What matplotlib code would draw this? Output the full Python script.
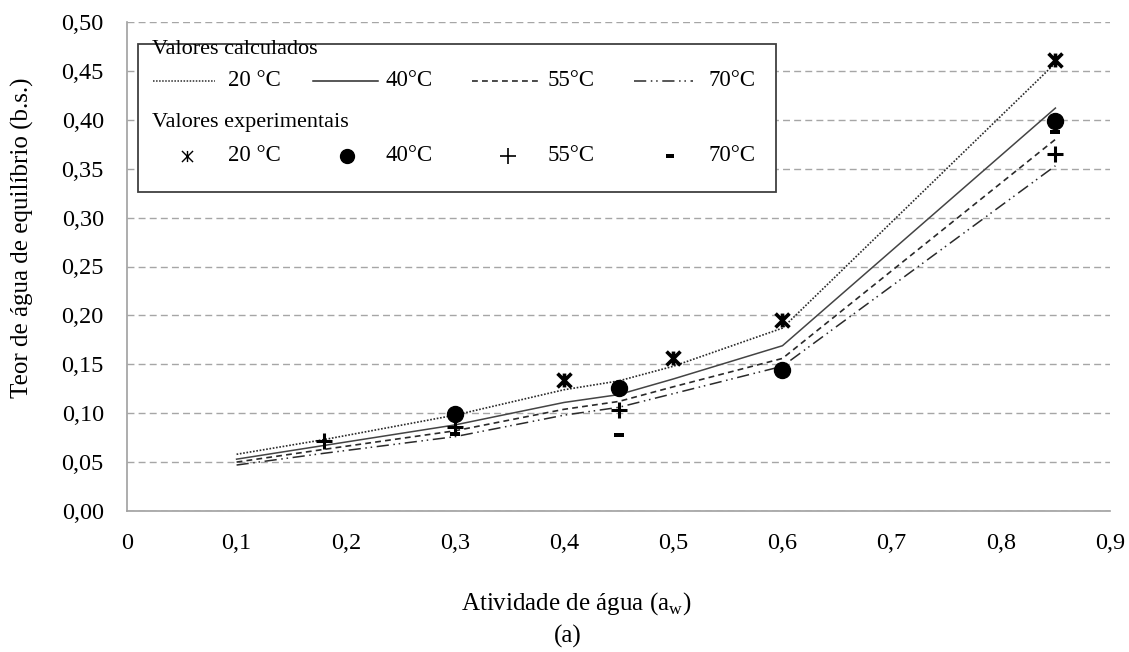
import matplotlib
matplotlib.use("Agg")
import matplotlib.pyplot as plt
from matplotlib.path import Path
from matplotlib.lines import Line2D
from matplotlib.patches import Rectangle
from matplotlib.ticker import FuncFormatter

plt.rcParams['font.family'] = ['Liberation Serif', 'DejaVu Serif']
plt.rcParams['mathtext.fontset'] = 'custom'
plt.rcParams['mathtext.rm'] = 'Liberation Serif'

# ---- data ----
x_calc = [0.10, 0.18, 0.30, 0.40, 0.45, 0.50, 0.60, 0.85]
calc_20 = [0.058, 0.073, 0.098, 0.124, 0.133, 0.148, 0.187, 0.458]
calc_40 = [0.053, 0.067, 0.088, 0.111, 0.119, 0.135, 0.169, 0.412]
calc_55 = [0.050, 0.063, 0.082, 0.104, 0.112, 0.127, 0.156, 0.380]
calc_70 = [0.047, 0.059, 0.076, 0.098, 0.106, 0.120, 0.148, 0.353]

exp20_x = [0.40, 0.50, 0.60, 0.85]
exp20_y = [0.134, 0.156, 0.195, 0.461]
exp40_x = [0.30, 0.45, 0.60, 0.85]
exp40_y = [0.099, 0.126, 0.144, 0.399]
exp55_x = [0.18, 0.30, 0.45, 0.85]
exp55_y = [0.072, 0.086, 0.103, 0.365]
exp70_x = [0.30, 0.45, 0.85]
exp70_y = [0.079, 0.078, 0.388]

labels_temp = ['20 °C', '40°C', '55°C', '70°C']
x_ticks = [0, 0.1, 0.2, 0.3, 0.4, 0.5, 0.6, 0.7, 0.8, 0.9]
y_ticks = [0.00, 0.05, 0.10, 0.15, 0.20, 0.25, 0.30, 0.35, 0.40, 0.45, 0.50]

# ---- markers ----
star_path = Path([(-1, -1), (1, 1), (-1, 1), (1, -1), (0, -1), (0, 1)],
                 [Path.MOVETO, Path.LINETO, Path.MOVETO, Path.LINETO, Path.MOVETO, Path.LINETO])
dash_path = Path([(-1, -0.5), (1, -0.5), (1, 0.5), (-1, 0.5), (-1, -0.5)],
                 [Path.MOVETO, Path.LINETO, Path.LINETO, Path.LINETO, Path.CLOSEPOLY])

W, H = 1129, 652
fig = plt.figure(figsize=(W / 100, H / 100), dpi=100)
L, R, T, B = 127.4, 1110, 22, 511
ax = fig.add_axes([L / W, 1 - B / H, (R - L) / W, (B - T) / H])

lc = '#2a2a2a'
ls20 = (0, (1.0, 1.0))
ls55 = (0, (3.5, 2.5))
ls70 = (0, (8, 3, 1, 2.5, 1, 3))
ax.plot(x_calc, calc_20, color=lc, lw=1.2, linestyle=ls20, zorder=3)
ax.plot(x_calc, calc_40, color='#444444', lw=1.1, linestyle='-', zorder=3)
ax.plot(x_calc, calc_55, color=lc, lw=1.2, linestyle=ls55, zorder=3)
ax.plot(x_calc, calc_70, color=lc, lw=1.1, linestyle=ls70, zorder=3)

ax.plot(exp20_x, exp20_y, linestyle='none', marker=star_path, markersize=10,
        markeredgewidth=2.6, color='black', zorder=4)
ax.plot(exp40_x, exp40_y, linestyle='none', marker='o', markersize=11.5,
        color='black', zorder=4)
ax.plot(exp55_x, exp55_y, linestyle='none', marker='+', markersize=11,
        markeredgewidth=2.2, color='black', zorder=4)
ax.plot(exp70_x, exp70_y, linestyle='none', marker=dash_path, markersize=7,
        color='black', markeredgewidth=0, zorder=4)

ax.set_xlim(0, 0.9)
ax.set_ylim(0, 0.5)
ax.set_xticks(x_ticks)
ax.set_yticks(y_ticks)
ax.xaxis.set_major_formatter(FuncFormatter(lambda v, p: '0' if abs(v) < 1e-9 else f'{v:.1f}'.replace('.', ',')))
ax.yaxis.set_major_formatter(FuncFormatter(lambda v, p: f'{v:.2f}'.replace('.', ',')))
ax.tick_params(axis='both', length=0, labelsize=17.5, colors='black')
ax.tick_params(axis='y', pad=17)
ax.tick_params(axis='x', pad=16)
ax.grid(axis='y', color='#a6a6a6', linestyle=(0, (5, 3)), lw=1)
ax.set_axisbelow(True)
for s in ['top', 'right']:
    ax.spines[s].set_visible(False)
for s in ['left', 'bottom']:
    ax.spines[s].set_color('#a0a0a0')
    ax.spines[s].set_linewidth(1.2)

# axis labels
fig.text(22 / W, 1 - 238 / H, 'Teor de água de equilíbrio (b.s.)', rotation=90,
         ha='center', va='center', fontsize=18)
fig.text(576 / W, 1 - 604 / H, r'Atividade de água (a$_\mathregular{w}$)',
         ha='center', va='center', fontsize=18)
fig.text(568 / W, 1 - 636 / H, '(a)', ha='center', va='center', fontsize=18)

# ---- legend (drawn manually) ----
def fx(px):
    return px / W

def fy(py):
    return 1 - py / H

box = Rectangle((fx(137.5), fy(191.5)), (776 - 137.5) / W, (191.5 - 44) / H,
                transform=fig.transFigure, facecolor='white', edgecolor='#404040',
                lw=1.3, zorder=5)
fig.add_artist(box)

fig.text(fx(152), fy(49), 'Valores calculados', ha='left', va='center', fontsize=16, zorder=6)
fig.text(fx(152), fy(123), 'Valores experimentais', ha='left', va='center', fontsize=16, zorder=6)

row1 = 81
row2 = 156
seg = [(153, 215, ls20, 1.1), (313, 378, '-', 1.1), (472, 538, ls55, 1.2), (634, 693, ls70, 1.1)]
txt_x = [228, 385, 548, 708]
for (a, b, ls, lw), tx, lab in zip(seg, txt_x, labels_temp):
    fig.add_artist(Line2D([fx(a), fx(b)], [fy(row1), fy(row1)], transform=fig.transFigure,
                          color=lc, lw=lw, linestyle=ls, zorder=6))
    fig.text(fx(tx), fy(row1), lab, ha='left', va='center', fontsize=16.5, zorder=6)

mk = [(187, star_path, 8, 1.0), (347, 'o', 10, 1),
      (508, '+', 11, 1.2), (670, dash_path, 6, 0)]
for (mx, m, ms, mew), tx, lab in zip(mk, txt_x, labels_temp):
    fig.add_artist(Line2D([fx(mx)], [fy(row2)], transform=fig.transFigure, marker=m,
                          markersize=ms, markeredgewidth=mew, color='black',
                          linestyle='none', zorder=6))
    fig.text(fx(tx), fy(row2), lab, ha='left', va='center', fontsize=16.5, zorder=6)

fig.savefig('out.png', dpi=100)
